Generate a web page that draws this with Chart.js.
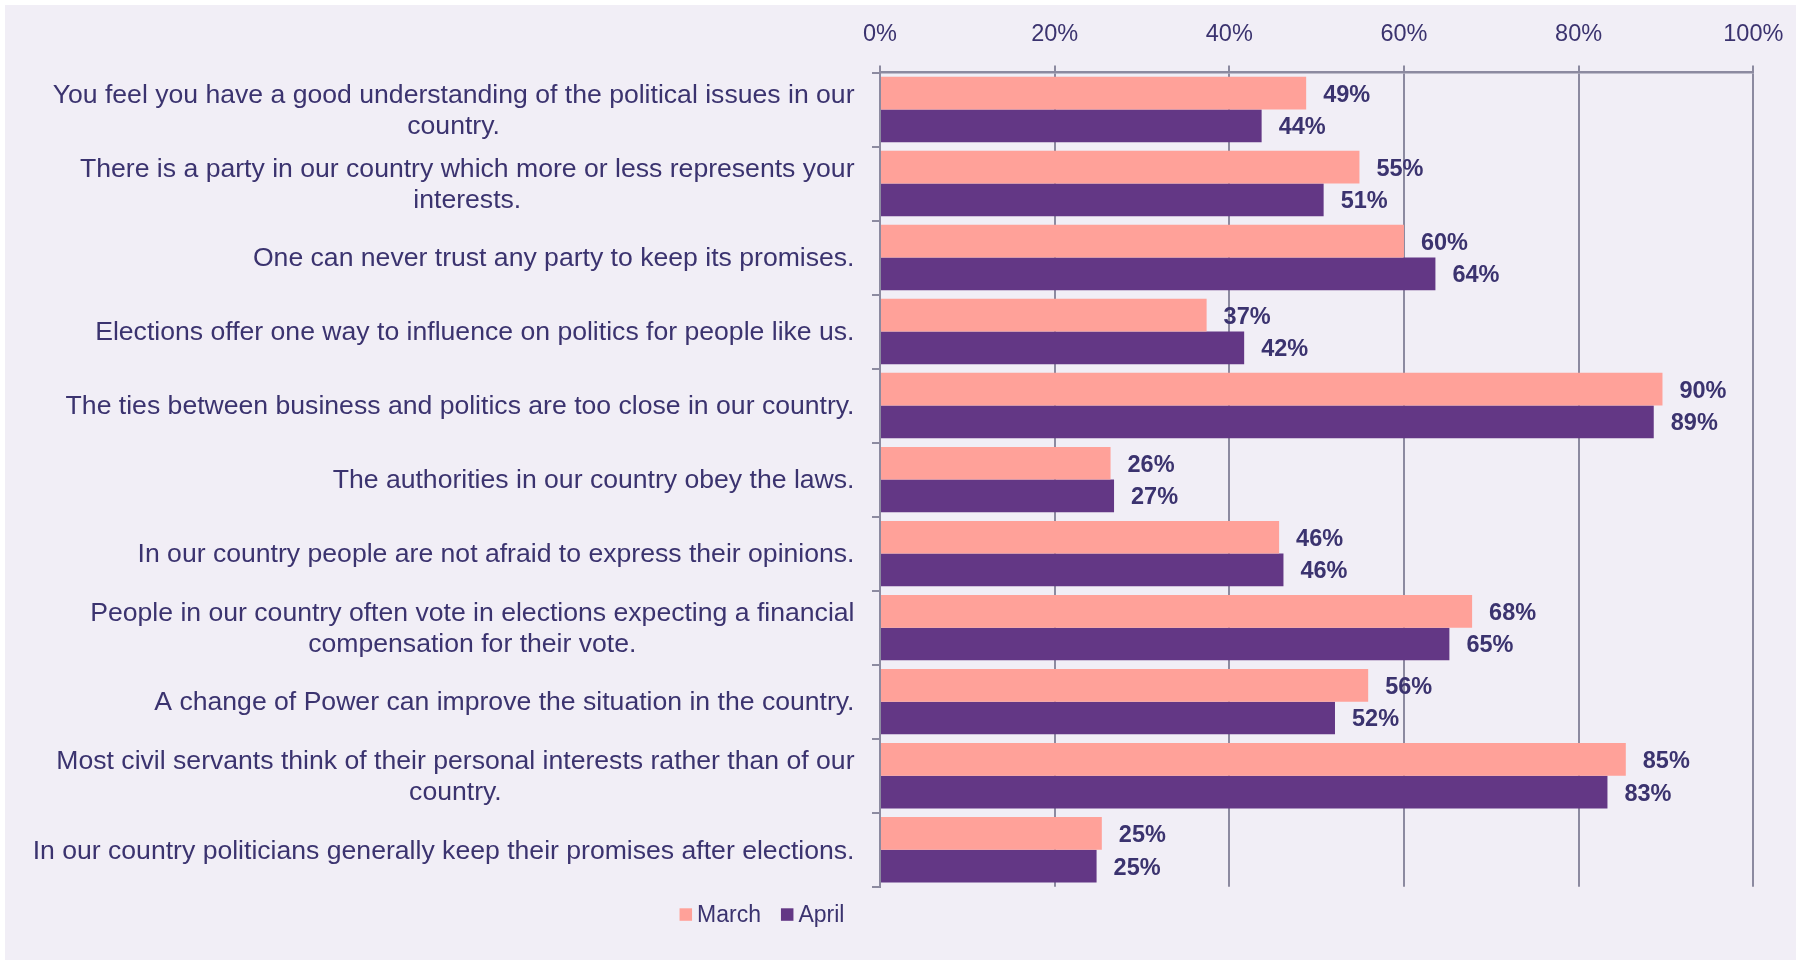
<!DOCTYPE html>
<html>
<head>
<meta charset="utf-8">
<script src="https://cdn.jsdelivr.net/npm/chart.js@4.4.1/dist/chart.umd.min.js"></script>
<style>
  html, body { margin: 0; padding: 0; background: #ffffff; }
  #wrap { position: absolute; left: 5px; top: 5px; width: 1791px; height: 955px; background: #F1EEF6; }
  canvas { display: block; }
</style>
</head>
<body>
<div id="wrap"><canvas id="chart" width="1791" height="955"></canvas></div>
<script>
const categories = [
    ['You feel you have a good understanding of the political issues in our', 'country.'],
    ['There is a party in our country which more or less represents your', 'interests.'],
    ['One can never trust any party to keep its promises.'],
    ['Elections offer one way to influence on politics for people like us.'],
    ['The ties between business and politics are too close in our country.'],
    ['The authorities in our country obey the laws.'],
    ['In our country people are not afraid to express their opinions.'],
    ['People in our country often vote in elections expecting a financial', 'compensation for their vote.'],
    ['A change of Power can improve the situation in the country.'],
    ['Most civil servants think of their personal interests rather than of our', 'country.'],
    ['In our country politicians generally keep their promises after elections.']
];
const seriesNames = ['March', 'April'];
const marchValues = [48.8, 54.9, 60.0, 37.4, 89.6, 26.4, 45.7, 67.8, 55.9, 85.4, 25.4];
const aprilValues = [43.7, 50.8, 63.6, 41.7, 88.6, 26.8, 46.2, 65.2, 52.1, 83.3, 24.8];
const xTicks = [0, 20, 40, 60, 80, 100];

const textColor = '#3B336F';
const axisColor = '#8C8AA0';
const marchColor = '#FFA199';
const aprilColor = '#633785';
const fontFamily = '"Liberation Sans", Arial, sans-serif';

// y tick labels: each block centred on itself, right edge fixed
const categoryLabels = {
    id: 'categoryLabels',
    afterDraw(chart) {
        const ctx = chart.ctx;
        const yScale = chart.scales.y;
        const rightEdge = 849.5;
        const lineHeight = 31;
        ctx.save();
        ctx.font = '26.6px ' + fontFamily;
        ctx.fillStyle = textColor;
        ctx.textAlign = 'center';
        ctx.textBaseline = 'middle';
        chart.data.labels.forEach((lines, i) => {
            const y = yScale.getPixelForValue(i) + 1.5;
            const blockWidth = Math.max(...lines.map(l => ctx.measureText(l).width));
            const cx = rightEdge - blockWidth / 2;
            const y0 = y - (lines.length - 1) * lineHeight / 2;
            lines.forEach((l, k) => ctx.fillText(l, cx, y0 + k * lineHeight));
        });
        ctx.restore();
    }
};

// value labels just past the bar end
const valueLabels = {
    id: 'valueLabels',
    afterDatasetsDraw(chart) {
        const ctx = chart.ctx;
        ctx.save();
        ctx.font = 'bold 23.5px ' + fontFamily;
        ctx.fillStyle = textColor;
        ctx.textAlign = 'left';
        ctx.textBaseline = 'middle';
        chart.data.datasets.forEach((ds, di) => {
            chart.getDatasetMeta(di).data.forEach((bar, i) => {
                ctx.fillText(Math.round(ds.data[i]) + '%', bar.x + 17, bar.y + 2);
            });
        });
        ctx.restore();
    }
};

// legend under the plot
const bottomLegend = {
    id: 'bottomLegend',
    afterDraw(chart) {
        const ctx = chart.ctx;
        const box = 12.5;
        const gap = 5;
        const itemGap = 20;
        const baseline = 917.3;
        ctx.save();
        ctx.font = '23px ' + fontFamily;
        ctx.textBaseline = 'alphabetic';
        ctx.textAlign = 'left';
        const widths = chart.data.datasets.map(ds => box + gap + ctx.measureText(ds.label).width);
        const total = widths.reduce((a, b) => a + b, 0) + itemGap * (widths.length - 1);
        let x = 757 - total / 2;
        chart.data.datasets.forEach((ds, i) => {
            ctx.fillStyle = ds.backgroundColor;
            ctx.fillRect(x, baseline - 14, box, box);
            ctx.fillStyle = textColor;
            ctx.fillText(ds.label, x + box + gap, baseline);
            x += widths[i] + itemGap;
        });
        ctx.restore();
    }
};

const ctx = document.getElementById('chart').getContext('2d');
const chart = new Chart(ctx, {
    type: 'bar',
    data: {
        labels: categories,
        datasets: [{
            label: seriesNames[0],
            data: marchValues,
            backgroundColor: marchColor,
            borderWidth: 0,
            barPercentage: 1,
            categoryPercentage: 0.884
        }, {
            label: seriesNames[1],
            data: aprilValues,
            backgroundColor: aprilColor,
            borderWidth: 0,
            barPercentage: 1,
            categoryPercentage: 0.884
        }]
    },
    options: {
        responsive: false,
        animation: false,
        indexAxis: 'y',
        layout: { padding: { top: 0, right: 42.7, bottom: 73.3, left: 0 } },
        plugins: {
            legend: { display: false },
            tooltip: { enabled: false }
        },
        scales: {
            x: {
                position: 'top',
                min: 0,
                max: 100,
                afterBuildTicks: s => { s.ticks = xTicks.map(v => ({ value: v })); },
                afterFit: s => {
                    s.height = 67.5;
                    s.paddingLeft = 0;
                    s.paddingRight = 0;
                },
                ticks: {
                    callback: v => v + '%',
                    color: textColor,
                    font: { family: fontFamily, size: 23.5 },
                    padding: 17,
                    maxRotation: 0
                },
                grid: { color: axisColor, lineWidth: 2, tickLength: 7 },
                border: { color: axisColor, width: 2.5 }
            },
            y: {
                afterFit: s => { s.width = 875; },
                ticks: { display: false },
                grid: { drawOnChartArea: false, color: axisColor, lineWidth: 2, tickLength: 8 },
                border: { color: axisColor, width: 2 }
            }
        }
    },
    plugins: [categoryLabels, valueLabels, bottomLegend]
});
</script>
</body>
</html>
